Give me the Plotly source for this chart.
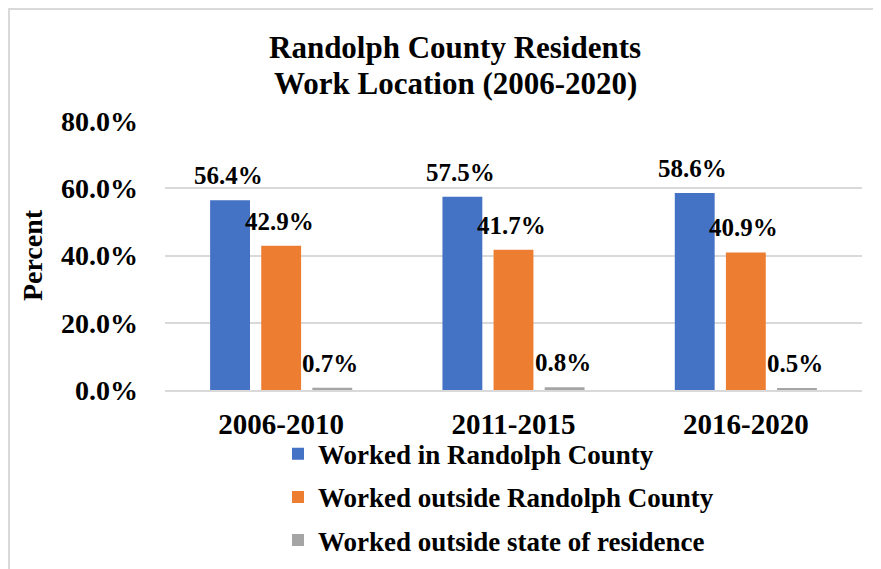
import plotly.graph_objects as go

categories = ["2006-2010", "2011-2015", "2016-2020"]
series_names = ["Worked in Randolph County", "Worked outside Randolph County", "Worked outside state of residence"]
in_county = [56.4, 57.5, 58.6]
outside_county = [42.9, 41.7, 40.9]
outside_state = [0.7, 0.8, 0.5]
colors = ["#4472C4", "#ED7D31", "#A5A5A5"]
y_ticks = [0, 20, 40, 60, 80]
y_tick_labels = ["0.0%", "20.0%", "40.0%", "60.0%", "80.0%"]
title_lines = ["Randolph County Residents", "Work Location (2006-2020)"]

FONT = "Liberation Serif, Times New Roman, serif"

W, H = 873, 561
L, R, T, B = 157, 19, 113, 179
PW = W - L - R
PH = H - T - B
BARGAP = 0.34
GROUPGAP = 0.22

fig = go.Figure()
all_series = [in_county, outside_county, outside_state]
for name, vals, col in zip(series_names, all_series, colors):
    fig.add_trace(go.Bar(
        x=categories, y=vals, name=name,
        marker=dict(color=col, line=dict(width=0)),
        legendgroup=name,
    ))

# data labels placed at the bar tops
cat_px = PW / len(categories)
slot_px = cat_px * (1 - BARGAP) / len(all_series)
annotations = []
for si, vals in enumerate(all_series):
    for c, v in zip(categories, vals):
        annotations.append(dict(
            x=c, y=v, xref="x", yref="y", text=f"{v:.1f}%", showarrow=False,
            xanchor="center", yanchor="bottom", xshift=(si - 1) * slot_px - 2, yshift=9,
            font=dict(family=FONT, size=25, color="black", weight="bold"),
        ))

# title lines
for i, line in enumerate(title_lines):
    annotations.append(dict(
        x=(455 - 8 - L) / PW, y=(T + PH - (48 - 8 + i * 35)) / PH, xref="paper", yref="paper",
        text=line, showarrow=False, xanchor="center", yanchor="middle",
        font=dict(family=FONT, size=31, color="black", weight="bold"),
    ))

fig.update_layout(
    width=W, height=H,
    margin=dict(l=L, r=R, t=T, b=B, autoexpand=False),
    paper_bgcolor="white", plot_bgcolor="white",
    barmode="group", bargap=BARGAP, bargroupgap=GROUPGAP,
    font=dict(family=FONT, color="black"),
    yaxis=dict(
        range=[0, 80], tickvals=y_ticks, ticktext=y_tick_labels,
        tickfont=dict(family=FONT, size=28, color="black", weight="bold"),
        showgrid=True, gridcolor="#D9D9D9", gridwidth=2,
        zeroline=False, showline=False, ticks="", ticklabelstandoff=26,
        title=dict(text="Percent", font=dict(family=FONT, size=28, color="black", weight="bold"), standoff=10),
    ),
    xaxis=dict(
        tickfont=dict(family=FONT, size=29, color="black", weight="bold"),
        showline=True, linecolor="#D9D9D9", linewidth=2, ticks="", ticklabelstandoff=7,
    ),
    legend=dict(
        orientation="v", x=(278 - 8 - L) / PW, xanchor="left", y=-0.148, yanchor="top",
        font=dict(family=FONT, size=27, color="black", weight="bold"),
        traceorder="grouped", tracegroupgap=5, itemwidth=30,
        bgcolor="rgba(0,0,0,0)",
    ),
    showlegend=True,
    annotations=annotations,
    shapes=[dict(type="rect", xref="paper", yref="paper",
                 x0=(1 - L) / PW, x1=1.1, y0=-1.0, y1=(T + PH - 1) / PH,
                 line=dict(color="#D9D9D9", width=2), fillcolor="rgba(0,0,0,0)", layer="below")],
)

fig.write_html("out.html")
